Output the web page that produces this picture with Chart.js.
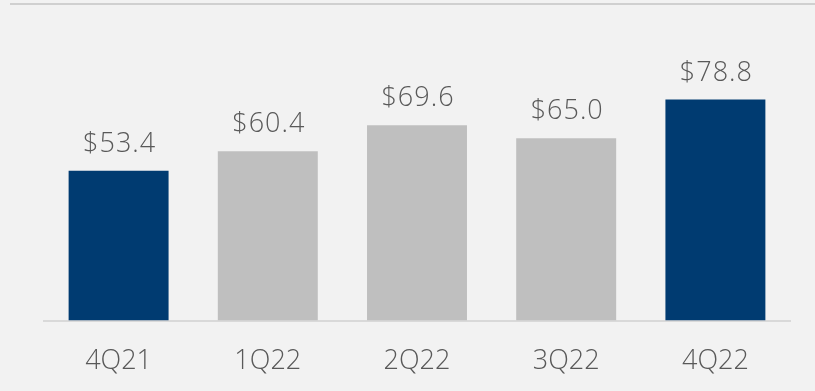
<!DOCTYPE html>
<html>
<head>
<meta charset="utf-8">
<script src="https://cdn.jsdelivr.net/npm/chart.js@4/dist/chart.umd.min.js"></script>
<style>
  html, body { margin: 0; padding: 0; background: #f2f2f2; }
  #wrap { width: 815px; height: 391px; }
</style>
</head>
<body>
<div id="wrap"><canvas id="c" width="815" height="391"></canvas></div>
<script>
// Quarterly values ($)
const quarters = ['4Q21', '1Q22', '2Q22', '3Q22', '4Q22'];
const values = [53.4, 60.4, 69.6, 65.0, 78.8];
const barColors = ['#003b71', '#bfbfbf', '#bfbfbf', '#bfbfbf', '#003b71'];

const FONT = '"Open Sans", "DejaVu Sans", sans-serif';
const TEXT = '#595959';

const canvas = document.getElementById('c');

// Value labels above each bar plus the thin rule along the top edge
const decorations = {
  id: 'decorations',
  afterDraw(chart) {
    const ctx = chart.ctx;
    ctx.save();
    ctx.strokeStyle = '#d0d0d0';
    ctx.lineWidth = 2;
    ctx.beginPath();
    ctx.moveTo(10, 4);
    ctx.lineTo(chart.width, 4);
    ctx.stroke();

    const meta = chart.getDatasetMeta(0);
    ctx.fillStyle = TEXT;
    ctx.font = '300 27px ' + FONT;
    ctx.letterSpacing = '1px';
    ctx.textAlign = 'center';
    ctx.textBaseline = 'alphabetic';
    meta.data.forEach((bar, i) => {
      ctx.fillText('$' + values[i].toFixed(1), bar.x + 1, bar.y - 19);
    });
    ctx.restore();
  }
};

new Chart(canvas, {
  type: 'bar',
  data: {
    labels: quarters,
    datasets: [{
      data: values,
      backgroundColor: barColors,
      borderWidth: 0,
      categoryPercentage: 1,
      barPercentage: 0.67
    }]
  },
  options: {
    responsive: false,
    animation: false,
    layout: { padding: { left: 44, right: 25, top: 12, bottom: -12 } },
    plugins: { legend: { display: false }, tooltip: { enabled: false } },
    scales: {
      x: {
        grid: { display: false, drawTicks: false },
        border: { color: '#d9d9d9', width: 2 },
        ticks: { color: TEXT, font: { family: FONT, size: 27, weight: '300' }, padding: 25 }
      },
      y: {
        display: false,
        min: 0,
        max: 110
      }
    }
  },
  plugins: [decorations]
});
</script>
</body>
</html>
